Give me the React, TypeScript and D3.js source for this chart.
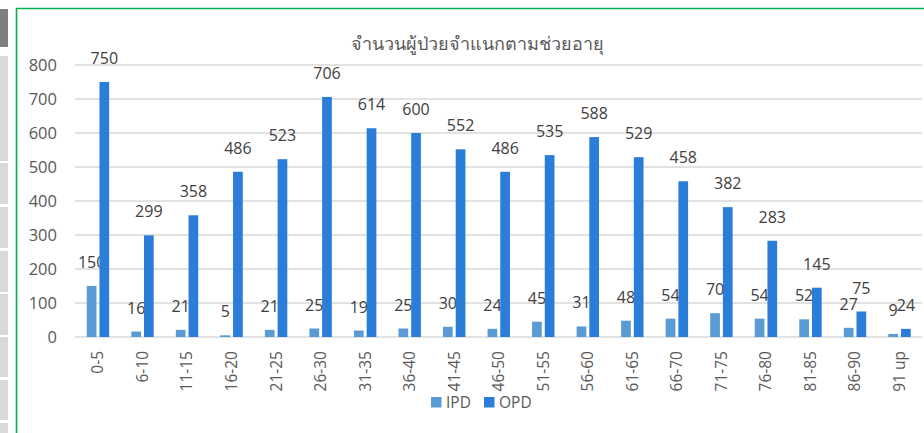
import React from "react";
import * as d3 from "d3";

const categories = ["0-5","6-10","11-15","16-20","21-25","26-30","31-35","36-40","41-45","46-50","51-55","56-60","61-65","66-70","71-75","76-80","81-85","86-90","91 up"];
const ipd = [150,16,21,5,21,25,19,25,30,24,45,31,48,54,70,54,52,27,9];
const opd = [750,299,358,486,523,706,614,600,552,486,535,588,529,458,382,283,145,75,24];
const yTicks = [0,100,200,300,400,500,600,700,800];
const title = "จำนวนผู้ป่วยจำแนกตามช่วยอายุ";
const seriesNames = ["IPD","OPD"];
const stripBlocks = [[9,47,"#7f7f7f"],[56,161,"#d9d9d9"],[163,204,"#d9d9d9"],[207,248,"#d9d9d9"],[251,292,"#d9d9d9"],[294,335,"#d9d9d9"],[337,377,"#d9d9d9"],[380,420,"#d9d9d9"],[423,433,"#d9d9d9"]];

const W = 924, H = 433;
const font = "'Open Sans', 'Noto Sans', sans-serif";
const colors = ["#5b9bd5", "#2a7dd8"];

export default function App() {
  const x = d3.scaleBand().domain(categories).range([75.7, 921.8]).padding(0);
  const y = d3.scaleLinear().domain([0, 800]).range([337, 65]);
  const bw = x.bandwidth() * 0.218;
  const gap = 3;
  const cx = (c: string) => (x(c) as number) + x.bandwidth() / 2;
  const series = [ipd, opd];
  return (
    <div style={{ position: "absolute", left: 0, top: 0, width: W, height: H, background: "#fff" }}>
      <svg width={W} height={H} style={{ display: "block", fontFamily: font }}>
        <rect x={0} y={0} width={W} height={H} fill="#fff" />
        {stripBlocks.map(([a, b, c], i) => (
          <rect key={i} x={0} y={a as number} width={8} height={(b as number) - (a as number)} fill={c as string} />
        ))}
        <line x1={16.5} x2={16.5} y1={8} y2={H} stroke="#00b050" strokeWidth={1.6} />
        <line x1={16} x2={W} y1={8.5} y2={8.5} stroke="#00b050" strokeWidth={1.6} />
        <text x={477.5} y={50} textAnchor="middle" fontSize={18} fill="#595959">{title}</text>
        {yTicks.map(t => (
          <g key={t}>
            <line x1={75} x2={922} y1={y(t)} y2={y(t)} stroke="#d9d9d9" strokeWidth={1.5} />
            <text x={57} y={y(t)} dy="0.35em" textAnchor="end" fontSize={16.5} fill="#595959">{t}</text>
          </g>
        ))}
        {categories.map((c, i) => (
          <g key={c}>
            {series.map((s, k) => {
              const bx = k === 0 ? cx(c) - gap / 2 - bw : cx(c) + gap / 2;
              return (
                <g key={k}>
                  <rect x={bx} y={y(s[i])} width={bw} height={y(0) - y(s[i])} fill={colors[k]} />
                  <text x={bx + bw / 2} y={y(s[i]) - 18} textAnchor="middle" fontSize={16} fill="#404040">{s[i]}</text>
                </g>
              );
            })}
            <text transform={`translate(${cx(c)},351) rotate(-90)`} dy="0.35em" textAnchor="end" fontSize={15.5} fill="#595959">{c}</text>
          </g>
        ))}
        {seriesNames.map((n, k) => {
          const lx = k === 0 ? 431 : 484;
          return (
            <g key={n}>
              <rect x={lx} y={397} width={10.5} height={10.5} fill={colors[k]} />
              <text x={lx + 15} y={402.5} dy="0.35em" fontSize={15.5} fill="#595959">{n}</text>
            </g>
          );
        })}
      </svg>
    </div>
  );
}
